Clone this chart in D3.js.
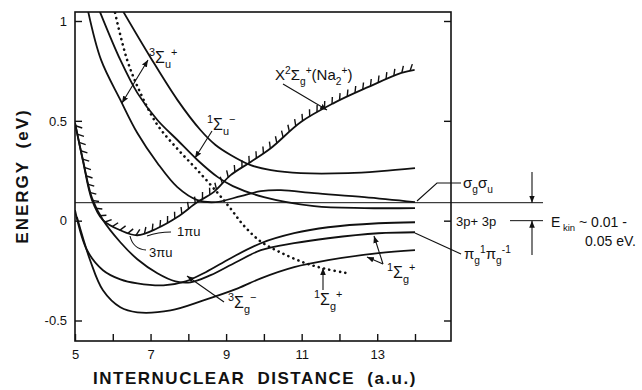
<!DOCTYPE html>
<html>
<head>
<meta charset="utf-8">
<script src="https://cdn.jsdelivr.net/npm/d3@7"></script>
<style>
  body { margin: 0; background: #fff; }
  text { font-family: "Liberation Sans", Arial, Helvetica, sans-serif; fill: #111; }
</style>
</head>
<body>
<svg width="642" height="390"></svg>
<script>
// axis ticks
const xTickValues = [5, 6, 7, 8, 9, 10, 11, 12, 13, 14];
const xTickLabels = { 5: "5", 7: "7", 9: "9", 11: "11", 13: "13" };
const yTickValues = [1, 0.5, 0, -0.5];
const yTickLabels = ["1", "0.5", "0", "-0.5"];
const levelSigma = 0.09;   // sigma_g sigma_u asymptote
const level3p = 0;         // 3p + 3p asymptote

// potential curves, [R (a.u.), E (eV)]
const ionX2 = [[5.0, 0.49], [5.21, 0.30], [5.45, 0.103], [5.74, 0.003], [6.2, -0.048], [6.65, -0.073],
  [7.18, -0.038], [7.71, 0.018], [8.24, 0.093], [8.67, 0.143], [9.12, 0.228], [9.65, 0.294],
  [10.19, 0.364], [10.98, 0.494], [11.86, 0.59], [12.77, 0.67], [13.64, 0.74], [13.99, 0.755]];
const dotted1Sg = [[6.06, 1.041], [6.38, 0.805], [6.73, 0.64], [7.18, 0.48], [7.71, 0.36], [8.24, 0.253],
  [8.78, 0.138], [9.12, 0.06], [9.47, -0.025], [9.92, -0.105], [10.45, -0.16], [11.06, -0.21],
  [11.6, -0.24], [12.18, -0.262]];
const upperA = [[6.28, 1.046], [6.99, 0.82], [7.71, 0.605], [8.32, 0.454], [8.72, 0.379], [9.12, 0.329],
  [9.65, 0.278], [10.19, 0.253], [10.98, 0.238], [12.23, 0.238], [13.11, 0.248], [14.0, 0.263]];
const upperB = [[5.35, 1.046], [5.69, 0.805], [6.2, 0.605], [6.65, 0.439], [7.18, 0.289], [7.71, 0.168],
  [8.24, 0.103], [8.72, 0.093], [9.39, 0.123], [9.92, 0.148], [10.45, 0.153], [11.33, 0.138],
  [12.66, 0.118], [14.0, 0.093]];
const upperC = [[5.66, 1.046], [6.2, 0.805], [6.65, 0.64], [7.18, 0.504], [7.71, 0.404], [8.24, 0.304],
  [8.78, 0.218], [9.18, 0.173], [10.0, 0.118], [11.33, 0.073], [12.66, 0.063], [14.0, 0.063]];
const lowerE = [[5.0, 0.489], [5.21, 0.304], [5.45, 0.113], [5.74, 0.003], [6.2, -0.108], [6.65, -0.193],
  [7.18, -0.263], [7.66, -0.304], [8.06, -0.309], [8.59, -0.273], [9.26, -0.208], [9.92, -0.148],
  [10.8, -0.113], [11.7, -0.088], [13.03, -0.063], [14.0, -0.058]];
const lowerF = [[5.0, 0.053], [5.32, -0.148], [5.74, -0.248], [6.2, -0.294], [6.65, -0.314], [7.34, -0.324],
  [7.93, -0.304], [8.46, -0.258], [9.12, -0.188], [9.92, -0.113], [10.8, -0.063], [11.7, -0.033],
  [13.03, -0.013], [14.0, -0.008]];
const lowerH = [[5.05, 0.018], [5.4, -0.198], [5.74, -0.349], [6.2, -0.434], [6.65, -0.459], [7.53, -0.449],
  [8.4, -0.399], [9.31, -0.339], [9.92, -0.289], [10.8, -0.233], [11.7, -0.198], [13.03, -0.163],
  [14.0, -0.148]];

const svg = d3.select("svg");
const frame = { left: 75, right: 451, top: 12, bottom: 341 };
const x = d3.scaleLinear().domain([5, 14]).range([75, 415]);
const y = d3.scaleLinear().domain([-0.5, 1]).range([320.5, 21]);
const ink = "#111";

const defs = svg.append("defs");
defs.append("clipPath").attr("id", "plot").append("rect")
  .attr("x", frame.left).attr("y", frame.top)
  .attr("width", frame.right - frame.left).attr("height", frame.bottom - frame.top);
defs.append("marker").attr("id", "arr")
  .attr("viewBox", "0 0 10 10").attr("refX", 10).attr("refY", 5)
  .attr("markerWidth", 7).attr("markerHeight", 7).attr("markerUnits", "userSpaceOnUse")
  .attr("orient", "auto-start-reverse")
  .append("path").attr("d", "M0,1 L10,5 L0,9 Z").attr("fill", ink);

// frame
svg.append("rect")
  .attr("x", frame.left).attr("y", frame.top)
  .attr("width", frame.right - frame.left).attr("height", frame.bottom - frame.top)
  .attr("fill", "none").attr("stroke", ink).attr("stroke-width", 1.6);

// axes, ticks inward
const xAxis = svg.append("g").attr("transform", `translate(0,${frame.bottom})`)
  .call(d3.axisBottom(x).tickValues(xTickValues).tickSize(-7).tickPadding(9)
    .tickFormat(d => xTickLabels[d] || ""));
const yAxis = svg.append("g").attr("transform", `translate(${frame.left},0)`)
  .call(d3.axisLeft(y).tickValues(yTickValues).tickSize(-7).tickPadding(8)
    .tickFormat((d, i) => yTickLabels[i]));
const yAxisR = svg.append("g").attr("transform", `translate(${frame.right},0)`)
  .call(d3.axisRight(y).tickValues(yTickValues).tickSize(-7).tickFormat(""));
[xAxis, yAxis, yAxisR].forEach(a => {
  a.select(".domain").remove();
  a.selectAll("line").attr("stroke", ink).attr("stroke-width", 1.4);
  a.selectAll("text").attr("font-size", 13).attr("fill", ink)
    .attr("font-family", "'Liberation Sans', Arial, sans-serif");
});

// axis titles
svg.append("text").attr("x", 255).attr("y", 384).attr("text-anchor", "middle")
  .attr("font-size", 17).attr("font-weight", "bold")
  .attr("letter-spacing", 1.5).attr("word-spacing", 6)
  .text("INTERNUCLEAR DISTANCE (a.u.)");
svg.append("text").attr("transform", "translate(28,176) rotate(-90)").attr("text-anchor", "middle")
  .attr("font-size", 17).attr("font-weight", "bold")
  .attr("letter-spacing", 2).attr("word-spacing", 5)
  .text("ENERGY (eV)");

// asymptote lines
svg.append("line").attr("x1", frame.left).attr("x2", 543)
  .attr("y1", y(levelSigma)).attr("y2", y(levelSigma))
  .attr("stroke", ink).attr("stroke-width", 1);
svg.append("line").attr("x1", 510).attr("x2", 543)
  .attr("y1", y(level3p)).attr("y2", y(level3p))
  .attr("stroke", ink).attr("stroke-width", 1);

const line = d3.line().x(d => x(d[0])).y(d => y(d[1])).curve(d3.curveCatmullRom.alpha(0.5));
const plot = svg.append("g").attr("clip-path", "url(#plot)");

[upperA, upperB, upperC, lowerE, lowerF, lowerH].forEach(c => {
  plot.append("path").attr("d", line(c))
    .attr("fill", "none").attr("stroke", ink).attr("stroke-width", 1.8);
});

plot.append("path").attr("d", line(dotted1Sg))
  .attr("fill", "none").attr("stroke", ink).attr("stroke-width", 2.6)
  .attr("stroke-linecap", "round").attr("stroke-dasharray", "0.1 5.3");

// ion curve with hatching on the upper side
const ion = plot.append("path").attr("d", line(ionX2))
  .attr("fill", "none").attr("stroke", ink).attr("stroke-width", 1.8);
const node = ion.node(), total = node.getTotalLength();
const rot = 30 * Math.PI / 180;
for (let s = 3; s < total; s += 8.5) {
  const p = node.getPointAtLength(s);
  const a = node.getPointAtLength(Math.max(0, s - 1.5));
  const b = node.getPointAtLength(Math.min(total, s + 1.5));
  let tx = b.x - a.x, ty = b.y - a.y;
  const n = Math.hypot(tx, ty); tx /= n; ty /= n;
  let nx = ty, ny = -tx;
  if (ny > 0) { nx = -nx; ny = -ny; }
  const rx = nx * Math.cos(rot) - ny * Math.sin(rot);
  const ry = nx * Math.sin(rot) + ny * Math.cos(rot);
  plot.append("line").attr("x1", p.x).attr("y1", p.y)
    .attr("x2", p.x + rx * 7).attr("y2", p.y + ry * 7)
    .attr("stroke", ink).attr("stroke-width", 1.4);
}

// labels with sub/superscripts
function label(px, py, parts, size) {
  const t = svg.append("text").attr("x", px).attr("y", py).attr("font-size", size);
  let shift = 0;
  parts.forEach(([txt, kind]) => {
    const target = kind === "sup" ? -0.42 * size : kind === "sub" ? 0.3 * size : 0;
    t.append("tspan").attr("dy", target - shift)
      .attr("font-size", kind ? size * 0.68 : size).text(txt);
    shift = target;
  });
}
label(149, 63, [["3", "sup"], ["Σ"], ["u", "sub"], ["+", "sup"]], 16);
label(207, 130, [["1", "sup"], ["Σ"], ["u", "sub"], ["−", "sup"]], 16);
label(275, 80, [["X"], ["2", "sup"], ["Σ"], ["g", "sub"], ["+", "sup"], ["(Na"], ["2", "sub"], ["+", "sup"], [")"]], 15);
label(228, 308, [["3", "sup"], ["Σ"], ["g", "sub"], ["−", "sup"]], 16);
label(387, 278, [["1", "sup"], ["Σ"], ["g", "sub"], ["+", "sup"]], 16);
label(314, 305, [["1", "sup"], ["Σ"], ["g", "sub"], ["+", "sup"]], 16);
label(177, 236, [["1πu"]], 13);
label(149, 257, [["3πu"]], 13);
label(463, 188, [["σ"], ["g", "sub"], ["σ"], ["u", "sub"]], 15);
label(456, 226, [["3p+ 3p"]], 13);
label(464, 259, [["π"], ["g", "sub"], ["1", "sup"], ["π"], ["g", "sub"], ["-1", "sup"]], 15);
label(551, 227, [["E"], [" kin", "sub"], [" ~ 0.01 -"]], 14);
label(585, 246, [["0.05 eV."]], 14);

// pointers
function pointer(pts, start, end) {
  const p = svg.append("path").attr("d", d3.line()(pts))
    .attr("fill", "none").attr("stroke", ink).attr("stroke-width", 1.1);
  if (start) p.attr("marker-start", "url(#arr)");
  if (end) p.attr("marker-end", "url(#arr)");
}
pointer([[122, 103], [148, 60]], true, true);
pointer([[212, 131], [195, 158]], false, true);
pointer([[283, 84], [327, 110]], false, true);
pointer([[224, 302], [187, 276]], false, true);
pointer([[383, 264], [374, 236]], false, true);
pointer([[383, 264], [367, 257]], false, true);
pointer([[323, 290], [323, 268]], false, true);
pointer([[417, 201], [437, 183], [461, 183]], false, false);
pointer([[415, 233], [461, 254]], false, false);
pointer([[532, 172], [532, y(levelSigma)]], false, true);
pointer([[532, 255], [532, y(level3p)]], false, true);
svg.append("path").attr("d", "M147,236 Q158,232 171,232")
  .attr("fill", "none").attr("stroke", ink).attr("stroke-width", 1.1);
svg.append("path").attr("d", "M130,236 Q133,249 146,250")
  .attr("fill", "none").attr("stroke", ink).attr("stroke-width", 1.1);
</script>
</body>
</html>
